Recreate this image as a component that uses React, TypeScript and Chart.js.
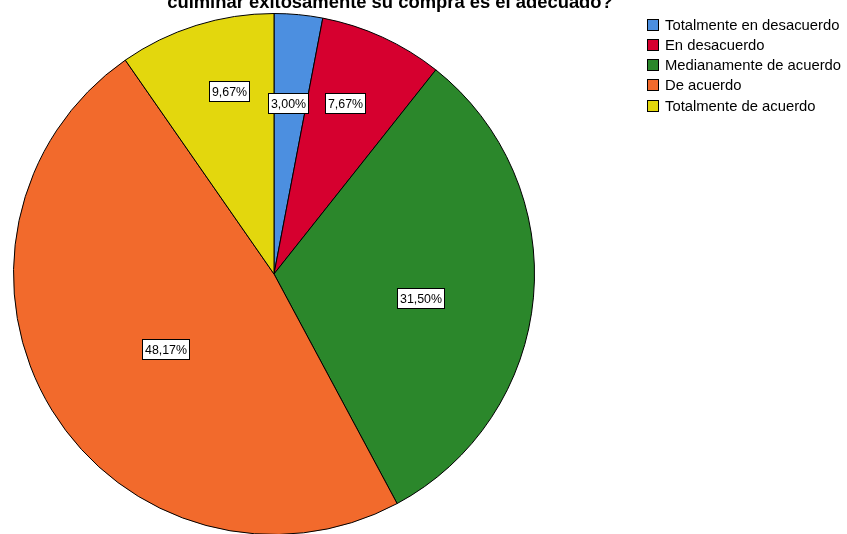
import React, { useEffect, useRef } from 'react';
import { Chart, registerables } from 'chart.js';

Chart.register(...registerables);

const categories = [
  'Totalmente en desacuerdo',
  'En desacuerdo',
  'Medianamente de acuerdo',
  'De acuerdo',
  'Totalmente de acuerdo',
];
const percentages = [3.0, 7.67, 31.5, 48.17, 9.67];
const sliceColors = ['#4C8FE0', '#D6002F', '#2B872B', '#F26A2C', '#E3D70D'];
const titleLine = 'culminar exitosamente su compra es el adecuado?';

const FONT = '"Liberation Sans", Arial, Helvetica, sans-serif';

// label placement style: fraction of radius and angular nudge (deg) per slice
const labelPlacement = [
  { frac: 0.657, dAng: -0.5 },
  { frac: 0.71, dAng: -1.9 },
  { frac: 0.571, dAng: 4.5 },
  { frac: 0.506, dAng: -3.6 },
  { frac: 0.72, dAng: 3.7 },
];

const fmt = (v: number) => v.toFixed(2).replace('.', ',') + '%';

const spssPlugin = {
  id: 'spssDecor',
  afterDraw(chart: any) {
    const ctx = chart.ctx as CanvasRenderingContext2D;
    const ds = chart.data.datasets[0];
    const meta = chart.getDatasetMeta(0);

    // slice labels
    ctx.save();
    ctx.font = `12.4px ${FONT}`;
    ctx.textAlign = 'center';
    ctx.textBaseline = 'middle';
    meta.data.forEach((arc: any, i: number) => {
      const p = arc.getProps(['x', 'y', 'startAngle', 'endAngle', 'outerRadius'], true);
      const place = labelPlacement[i];
      const a = (p.startAngle + p.endAngle) / 2 + (place.dAng * Math.PI) / 180;
      const r = p.outerRadius * place.frac;
      const x = p.x + Math.cos(a) * r;
      const y = p.y + Math.sin(a) * r;
      const txt = fmt(ds.data[i]);
      const w = Math.round(ctx.measureText(txt).width + 6);
      const h = 21;
      const bx = Math.round(x - w / 2);
      const by = Math.round(y - h / 2);
      ctx.fillStyle = '#ffffff';
      ctx.fillRect(bx, by, w, h);
      ctx.strokeStyle = '#000000';
      ctx.lineWidth = 1;
      ctx.strokeRect(bx + 0.5, by + 0.5, w - 1, h - 1);
      ctx.fillStyle = '#000000';
      ctx.fillText(txt, bx + w / 2, by + h / 2 + 1);
    });
    ctx.restore();

    // legend
    ctx.save();
    ctx.font = `14.8px ${FONT}`;
    ctx.textAlign = 'left';
    ctx.textBaseline = 'middle';
    const y0 = 24.5;
    const step = 20.25;
    const boxX = 647;
    const box = 12;
    const textX = 665;
    chart.data.labels.forEach((lab: string, i: number) => {
      const cy = y0 + i * step;
      const by = Math.round(cy - box / 2);
      ctx.fillStyle = sliceColors[i];
      ctx.fillRect(boxX, by, box, box);
      ctx.strokeStyle = '#000000';
      ctx.lineWidth = 1;
      ctx.strokeRect(boxX + 0.5, by + 0.5, box - 1, box - 1);
      ctx.fillStyle = '#000000';
      ctx.fillText(lab, textX, cy + 1);
    });
    ctx.restore();

    // title (second line, partially cut at the top)
    ctx.save();
    ctx.font = `bold 18.4px ${FONT}`;
    ctx.textAlign = 'center';
    ctx.textBaseline = 'alphabetic';
    ctx.fillStyle = '#000000';
    ctx.fillText(titleLine, 390, 8);
    ctx.restore();
  },
};

export default function App() {
  const ref = useRef<HTMLCanvasElement | null>(null);

  useEffect(() => {
    document.documentElement.style.overflow = 'hidden';
    document.body.style.overflow = 'hidden';
    document.body.style.margin = '0';
    const canvas = ref.current;
    if (!canvas) return;
    const chart = new Chart(canvas, {
      type: 'pie',
      data: {
        labels: categories,
        datasets: [
          {
            data: percentages,
            backgroundColor: sliceColors,
            borderColor: '#000000',
            borderWidth: 1,
          },
        ],
      },
      options: {
        responsive: false,
        animation: false,
        devicePixelRatio: 1,
        events: [],
        layout: { padding: { left: 13, right: 312, top: 13, bottom: 25 } },
        plugins: {
          legend: { display: false },
          tooltip: { enabled: false },
          title: { display: false },
        },
      },
      plugins: [spssPlugin],
    });
    return () => chart.destroy();
  }, []);

  return (
    <div style={{ position: 'absolute', left: 0, top: 0, width: 847, height: 560 }}>
      <canvas ref={ref} width={847} height={560} style={{ width: 847, height: 560, display: 'block' }} />
    </div>
  );
}
